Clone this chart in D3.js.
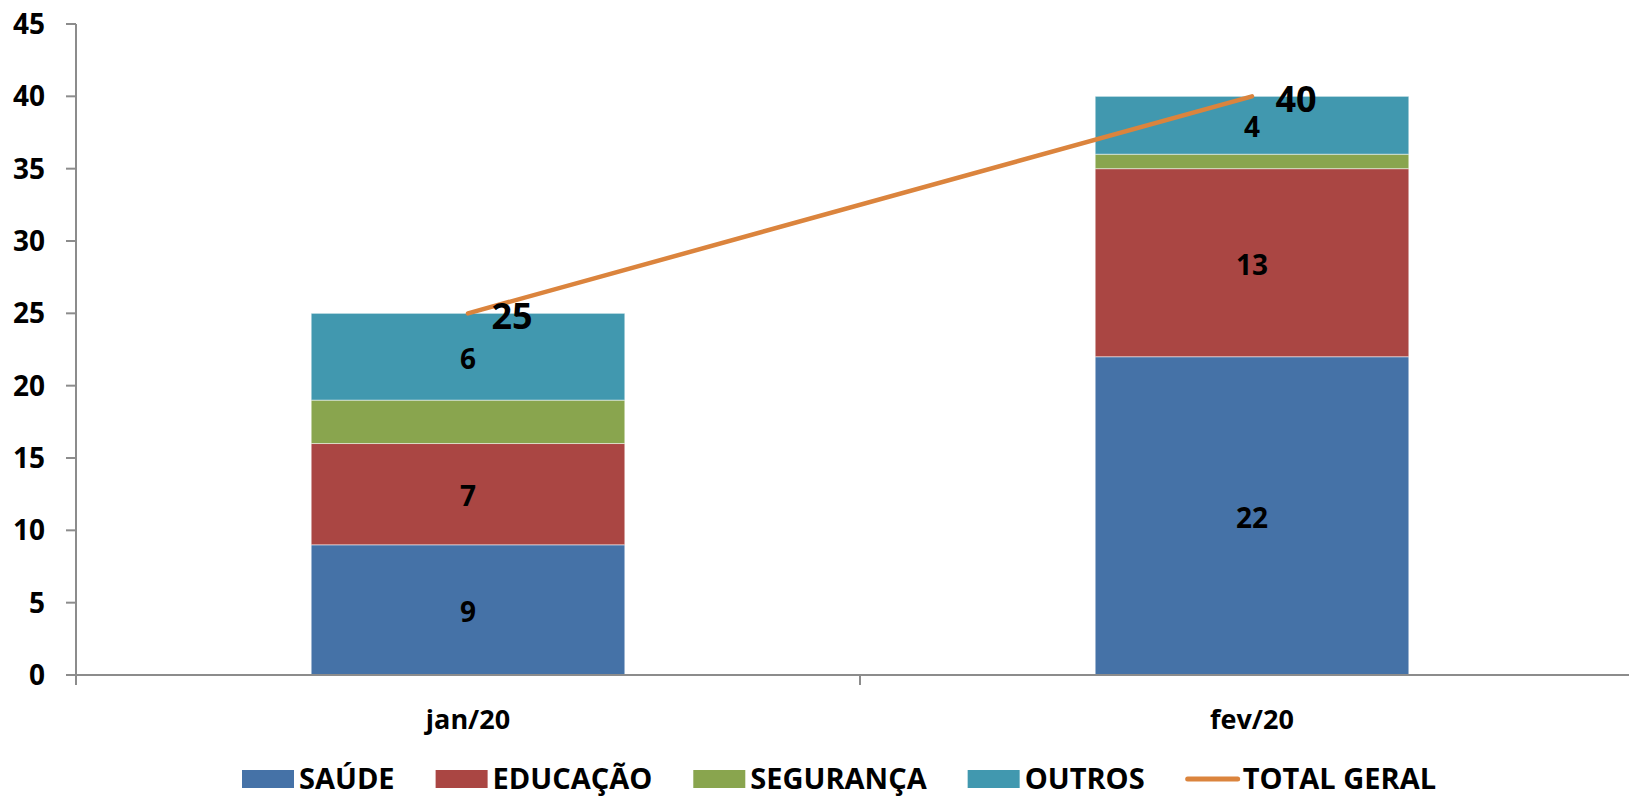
<html>
<head>
<meta charset="utf-8">
<script type="text/javascript" src="https://cdn.jsdelivr.net/npm/d3@7/dist/d3.min.js"></script>
<style>
    body { margin: 0; background: #fff; }
    text { font-family: "Open Sans", "DejaVu Sans", sans-serif; font-weight: bold; fill: #000; }
    .axis line, .axis path { stroke: #8c8c8c; stroke-width: 2; fill: none; }
</style>
</head>
<body>
<script type="text/javascript">

// data
var categories = ["jan/20", "fev/20"];
var seriesNames = ["SAÚDE", "EDUCAÇÃO", "SEGURANÇA", "OUTROS"];
var saude = [9, 22];
var educacao = [7, 13];
var seguranca = [3, 1];
var outros = [6, 4];
var totalGeral = [25, 40];
var lineName = "TOTAL GERAL";
var yTicks = [0, 5, 10, 15, 20, 25, 30, 35, 40, 45];
// which series get a value label in the bars
var showLabel = [true, true, false, true];

var colors = ["#4572A7", "#AA4643", "#89A54E", "#4198AF"];
var lineColor = "#DB843D";

var width = 1629, height = 796;
var plotLeft = 76, plotRight = 1644, plotTop = 24, plotBottom = 675;

var svg = d3.select("body").append("svg")
    .attr("width", width)
    .attr("height", height);

var x = d3.scaleBand()
    .domain(categories)
    .range([plotLeft, plotRight])
    .paddingInner(0.6)
    .paddingOuter(0.3);

var y = d3.scaleLinear()
    .domain([0, 45])
    .range([plotBottom, plotTop]);

// stacked data
var rows = categories.map(function(c, i) {
    return { cat: c, s0: saude[i], s1: educacao[i], s2: seguranca[i], s3: outros[i] };
});
var stack = d3.stack().keys(["s0", "s1", "s2", "s3"]);
var layers = stack(rows);

var g = svg.append("g");

g.selectAll("g.layer")
    .data(layers)
    .enter().append("g")
        .attr("class", "layer")
        .attr("fill", function(d, i) { return colors[i]; })
    .selectAll("rect")
    .data(function(d) { return d; })
    .enter().append("rect")
        .attr("x", function(d) { return x(d.data.cat); })
        .attr("y", function(d) { return y(d[1]); })
        .attr("width", x.bandwidth())
        .attr("height", function(d) { return y(d[0]) - y(d[1]); })
        .attr("stroke", "rgba(255,255,255,0.5)")
        .attr("stroke-width", 1);

// value labels inside the bars
layers.forEach(function(layer, li) {
    if (!showLabel[li]) return;
    g.selectAll("text.v" + li)
        .data(layer)
        .enter().append("text")
            .attr("class", "v" + li)
            .attr("x", function(d) { return x(d.data.cat) + x.bandwidth() / 2; })
            .attr("y", function(d) { return y((d[0] + d[1]) / 2) + 2; })
            .attr("dy", "0.36em")
            .attr("text-anchor", "middle")
            .style("font-size", "28px")
            .text(function(d) { return d[1] - d[0]; });
});

// y axis
var yAxis = svg.append("g").attr("class", "axis");
yAxis.append("line")
    .attr("x1", plotLeft).attr("x2", plotLeft)
    .attr("y1", y(45)).attr("y2", plotBottom + 10);
yAxis.selectAll("line.tick")
    .data(yTicks)
    .enter().append("line")
        .attr("class", "tick")
        .attr("x1", plotLeft - 10).attr("x2", plotLeft)
        .attr("y1", function(d) { return y(d); })
        .attr("y2", function(d) { return y(d); });
yAxis.selectAll("text")
    .data(yTicks)
    .enter().append("text")
        .attr("x", 45)
        .attr("y", function(d) { return y(d); })
        .attr("dy", "0.36em")
        .attr("text-anchor", "end")
        .style("font-size", "28px")
        .text(function(d) { return d; });

// x axis
var xAxis = svg.append("g").attr("class", "axis");
xAxis.append("line")
    .attr("x1", plotLeft).attr("x2", plotRight)
    .attr("y1", plotBottom).attr("y2", plotBottom);
xAxis.selectAll("line.tick")
    .data(d3.range(categories.length + 1))
    .enter().append("line")
        .attr("class", "tick")
        .attr("x1", function(i) { return plotLeft + i * x.step(); })
        .attr("x2", function(i) { return plotLeft + i * x.step(); })
        .attr("y1", plotBottom).attr("y2", plotBottom + 10);
xAxis.selectAll("text")
    .data(categories)
    .enter().append("text")
        .attr("x", function(d) { return x(d) + x.bandwidth() / 2; })
        .attr("y", 719)
        .attr("dy", "0.36em")
        .attr("text-anchor", "middle")
        .style("font-size", "27px")
        .text(function(d) { return d; });

// total line
var line = d3.line()
    .x(function(d, i) { return x(categories[i]) + x.bandwidth() / 2; })
    .y(function(d) { return y(d); });
svg.append("path")
    .datum(totalGeral)
    .attr("d", line)
    .attr("fill", "none")
    .attr("stroke", lineColor)
    .attr("stroke-width", 4.5)
    .attr("stroke-linecap", "round");

svg.selectAll("text.total")
    .data(totalGeral)
    .enter().append("text")
        .attr("class", "total")
        .attr("x", function(d, i) { return x(categories[i]) + x.bandwidth() / 2 + 44; })
        .attr("y", function(d) { return y(d) + 3; })
        .attr("dy", "0.36em")
        .attr("text-anchor", "middle")
        .style("font-size", "36px")
        .text(function(d) { return d; });

// legend
var legend = svg.append("g");
var lx = 242, ly = 779;
var items = seriesNames.map(function(n, i) { return { name: n, color: colors[i], line: false }; });
items.push({ name: lineName, color: lineColor, line: true });
items.forEach(function(it) {
    if (it.line) {
        legend.append("line")
            .attr("x1", lx + 2).attr("x2", lx + 52)
            .attr("y1", ly).attr("y2", ly)
            .attr("stroke", it.color)
            .attr("stroke-width", 5)
            .attr("stroke-linecap", "round");
    } else {
        legend.append("rect")
            .attr("x", lx).attr("y", ly - 9)
            .attr("width", 52).attr("height", 18)
            .attr("fill", it.color);
    }
    var t = legend.append("text")
        .attr("x", lx + 57)
        .attr("y", ly)
        .attr("dy", "0.36em")
        .style("font-size", "29px")
        .text(it.name);
    lx = lx + 57 + t.node().getComputedTextLength() + 41;
});

</script>
</body>
</html>
